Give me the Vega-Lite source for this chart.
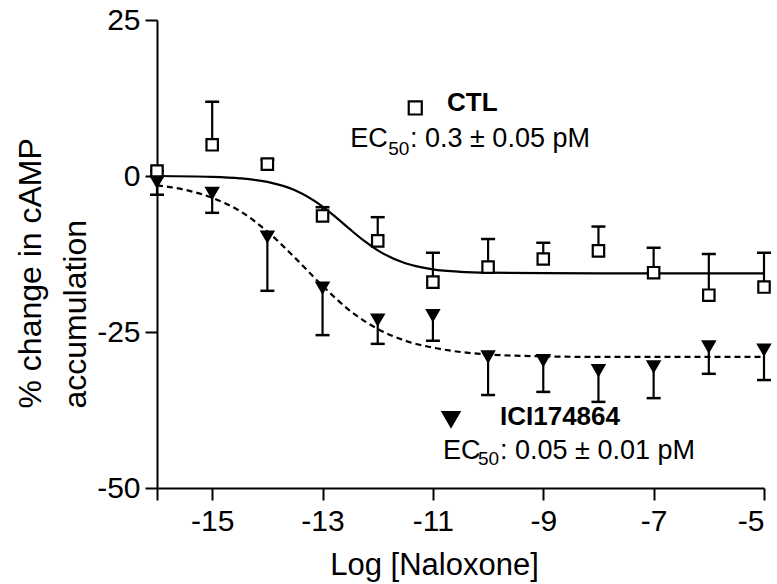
{
  "$schema": "https://vega.github.io/schema/vega-lite/v6.json",
  "width": 607,
  "height": 468,
  "autosize": {"type": "none"},
  "padding": {"left": 157, "top": 20, "right": 13, "bottom": 96},
  "background": "white",
  "config": {
    "view": {"stroke": null},
    "font": "Liberation Sans",
    "axis": {
      "grid": false,
      "domainColor": "black",
      "domainWidth": 2,
      "tickColor": "black",
      "tickWidth": 2,
      "tickSize": 12,
      "labelColor": "black",
      "labelFont": "Liberation Sans",
      "labelFontSize": 30,
      "titleColor": "black",
      "titleFont": "Liberation Sans",
      "titleFontWeight": "normal"
    }
  },
  "datasets": {
    "ctl": [
      {"logx": -16, "y": 0.8, "end": 0.8},
      {"logx": -15, "y": 5.0, "end": 11.9},
      {"logx": -14, "y": 1.9, "end": 2.6},
      {"logx": -13, "y": -6.4, "end": -5.0},
      {"logx": -12, "y": -10.4, "end": -6.6},
      {"logx": -11, "y": -17.0, "end": -12.3},
      {"logx": -10, "y": -14.6, "end": -10.1},
      {"logx": -9, "y": -13.3, "end": -10.7},
      {"logx": -8, "y": -12.0, "end": -8.1},
      {"logx": -7, "y": -15.5, "end": -11.5},
      {"logx": -6, "y": -19.1, "end": -12.5},
      {"logx": -5, "y": -17.8, "end": -12.3}
    ],
    "ici": [
      {"logx": -16, "y": -1.0, "end": -3.0},
      {"logx": -15, "y": -2.8, "end": -5.9},
      {"logx": -14, "y": -9.8, "end": -18.4},
      {"logx": -13, "y": -18.0, "end": -25.5},
      {"logx": -12, "y": -23.1, "end": -26.9},
      {"logx": -11, "y": -22.4, "end": -26.4},
      {"logx": -10, "y": -29.0, "end": -35.1},
      {"logx": -9, "y": -29.6, "end": -34.6},
      {"logx": -8, "y": -31.2, "end": -36.2},
      {"logx": -7, "y": -30.6, "end": -35.6},
      {"logx": -6, "y": -27.4, "end": -31.7},
      {"logx": -5, "y": -27.9, "end": -32.7}
    ],
    "ctlfit": [
      {"logx": -16, "y": 0.0},
      {"logx": -15, "y": -0.14},
      {"logx": -14.5, "y": -0.37},
      {"logx": -14, "y": -0.95},
      {"logx": -13.5, "y": -2.29},
      {"logx": -13, "y": -4.89},
      {"logx": -12.75, "y": -6.66},
      {"logx": -12.5, "y": -8.56},
      {"logx": -12.25, "y": -10.37},
      {"logx": -12, "y": -11.92},
      {"logx": -11.5, "y": -13.98},
      {"logx": -11, "y": -14.95},
      {"logx": -10.5, "y": -15.35},
      {"logx": -10, "y": -15.5},
      {"logx": -9, "y": -15.58},
      {"logx": -8, "y": -15.6},
      {"logx": -7, "y": -15.6},
      {"logx": -6, "y": -15.6},
      {"logx": -5, "y": -15.6}
    ],
    "icifit": [
      {"logx": -16, "y": -1.5},
      {"logx": -15.5, "y": -2.2},
      {"logx": -15, "y": -3.5},
      {"logx": -14.5, "y": -5.6},
      {"logx": -14, "y": -8.9},
      {"logx": -13.5, "y": -13.1},
      {"logx": -13, "y": -17.6},
      {"logx": -12.5, "y": -21.6},
      {"logx": -12, "y": -24.5},
      {"logx": -11.5, "y": -26.4},
      {"logx": -11, "y": -27.5},
      {"logx": -10.5, "y": -28.2},
      {"logx": -10, "y": -28.6},
      {"logx": -9.5, "y": -28.8},
      {"logx": -9, "y": -28.9},
      {"logx": -8, "y": -29.0},
      {"logx": -7, "y": -29.0},
      {"logx": -6, "y": -29.0},
      {"logx": -5, "y": -29.0}
    ],
    "names": [
      {"logx": -10.745, "y": 10.42, "label": "CTL"},
      {"logx": -9.784, "y": -39.9, "label": "ICI174864"}
    ],
    "ectext": [
      {"logx": -12.5, "y": 4.65, "label": "EC"},
      {"logx": -11.415, "y": 4.65, "label": ": 0.3 ± 0.05 pM"},
      {"logx": -10.817, "y": -45.35, "label": "EC"},
      {"logx": -9.784, "y": -45.35, "label": ": 0.05 ± 0.01 pM"}
    ],
    "subs": [
      {"logx": -11.81, "y": 3.37, "label": "50"},
      {"logx": -10.183, "y": -46.3, "label": "50"}
    ],
    "keyctl": [{"logx": -11.32, "y": 10.9}],
    "keyici": [{"logx": -10.672, "y": -39.1}]
  },
  "encoding": {
    "x": {
      "field": "logx",
      "type": "quantitative",
      "scale": {"domain": [-16, -5], "nice": false, "zero": false},
      "axis": {
        "values": [-16, -15, -13, -11, -9, -7, -5],
        "labelExpr": "datum.value == -16 ? '' : '' + datum.value",
        "labelPadding": 6,
        "title": "Log [Naloxone]",
        "titleFontSize": 31,
        "titleX": 277,
        "titleY": 86,
        "titleAlign": "center",
        "titleBaseline": "alphabetic"
      }
    },
    "y": {
      "field": "y",
      "type": "quantitative",
      "scale": {"domain": [-50, 25], "nice": false, "zero": false},
      "axis": {
        "values": [25, 0, -25, -50],
        "labelExpr": "'' + datum.value",
        "labelPadding": 5,
        "title": ["% change in cAMP", "accumulation"],
        "titleFontSize": 32,
        "titleAngle": -90,
        "titleAlign": "left",
        "titleBaseline": "alphabetic",
        "titleLineHeight": 45,
        "titleX": -117,
        "titleY": 388
      }
    }
  },
  "layer": [
    {
      "data": {"name": "ctlfit"},
      "mark": {"type": "line", "color": "black", "strokeWidth": 2.2, "interpolate": "monotone"}
    },
    {
      "data": {"name": "icifit"},
      "mark": {"type": "line", "color": "black", "strokeWidth": 2.2, "strokeDash": [6, 4], "interpolate": "monotone"}
    },
    {
      "data": {"name": "ctl"},
      "mark": {"type": "rule", "color": "black", "strokeWidth": 2.2},
      "encoding": {"y2": {"field": "end"}}
    },
    {
      "data": {"name": "ctl"},
      "mark": {"type": "tick", "orient": "horizontal", "color": "black", "thickness": 2.5, "size": 14, "opacity": 1},
      "encoding": {"y": {"field": "end", "type": "quantitative"}}
    },
    {
      "data": {"name": "ici"},
      "mark": {"type": "rule", "color": "black", "strokeWidth": 2.2},
      "encoding": {"y2": {"field": "end"}}
    },
    {
      "data": {"name": "ici"},
      "mark": {"type": "tick", "orient": "horizontal", "color": "black", "thickness": 2.5, "size": 14, "opacity": 1},
      "encoding": {"y": {"field": "end", "type": "quantitative"}}
    },
    {
      "data": {"name": "ctl"},
      "mark": {"type": "point", "shape": "square", "size": 130, "filled": false, "fill": "white", "fillOpacity": 1, "stroke": "black", "strokeWidth": 2.2, "opacity": 1}
    },
    {
      "data": {"name": "ici"},
      "mark": {"type": "point", "shape": "triangle-down", "size": 240, "filled": true, "color": "black", "opacity": 1}
    },
    {
      "data": {"name": "keyctl"},
      "mark": {"type": "point", "shape": "square", "size": 170, "filled": false, "fill": "white", "fillOpacity": 1, "stroke": "black", "strokeWidth": 2.2, "opacity": 1}
    },
    {
      "data": {"name": "keyici"},
      "mark": {"type": "point", "shape": "triangle-down", "size": 420, "filled": true, "color": "black", "opacity": 1}
    },
    {
      "data": {"name": "names"},
      "mark": {"type": "text", "align": "left", "baseline": "alphabetic", "fontSize": 26, "fontWeight": "bold", "font": "Liberation Sans", "color": "black"},
      "encoding": {"text": {"field": "label"}}
    },
    {
      "data": {"name": "ectext"},
      "mark": {"type": "text", "align": "left", "baseline": "alphabetic", "fontSize": 27, "font": "Liberation Sans", "color": "black"},
      "encoding": {"text": {"field": "label"}}
    },
    {
      "data": {"name": "subs"},
      "mark": {"type": "text", "align": "left", "baseline": "alphabetic", "fontSize": 19, "font": "Liberation Sans", "color": "black"},
      "encoding": {"text": {"field": "label"}}
    }
  ]
}
